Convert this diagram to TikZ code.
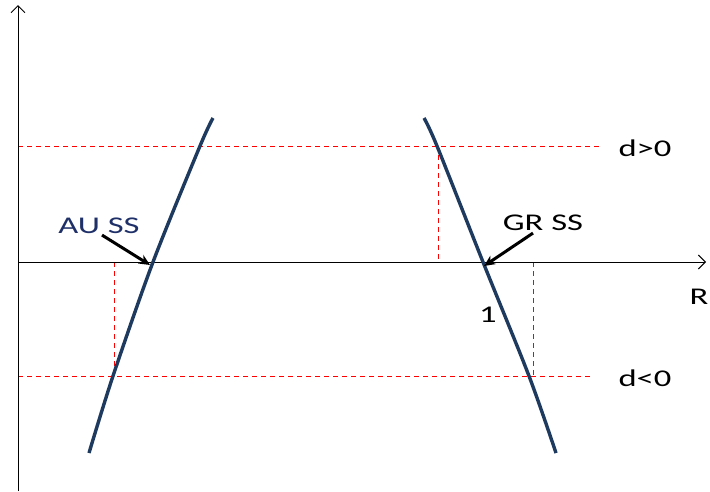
\documentclass[tikz,border=0pt]{standalone}
\usepackage{fontspec}
\setmainfont{Carlito}
\usetikzlibrary{arrows.meta}
\definecolor{curvenavy}{HTML}{1F3A5F}
\definecolor{labelnavy}{HTML}{1F3069}
\newcommand{\widetext}[1]{\scalebox{1.44}[1]{#1}}

\begin{document}
\begin{tikzpicture}[x=1pt,y=-1pt,
  axisline/.style={black, line width=1pt},
  guide/.style={red, dashed, line width=0.8pt, dash pattern=on 5pt off 4pt},
  branch/.style={curvenavy, line width=3.4pt},
  pointer/.style={black, line width=3pt, -{Stealth[length=11pt,width=10pt]}},
  lbl/.style={font=\fontsize{24}{28}\selectfont, inner sep=0pt}]
\useasboundingbox (0,0) rectangle (710,491);
% key points
\coordinate (o) at (18,262);
\coordinate (aus) at (153,262);
\coordinate (grs) at (483,262);
\coordinate (lhi) at (200,146);
\coordinate (llo) at (113,376);
\coordinate (rhi) at (437,146);
\coordinate (rlo) at (529,376);
% dashed guides
\draw[guide] (18,146) -- (600,146);
\draw[guide] (18,376) -- (593,376);
\draw[guide] (114,262) -- (114,376);
\draw[guide] (438,146) -- (438,262);
\draw[guide] (533,262) -- (533,376);
% axes
\draw[axisline, -{Straight Barb[length=7pt,width=14pt]}] (18,491) -- (18,5);
\draw[axisline, -{Straight Barb[length=7pt,width=14pt]}] (o) -- (706,262);
% the two branches
\draw[branch] plot[smooth, tension=0.5] coordinates {(89,453) (llo) (aus) (lhi) (213,118)};
\draw[branch] plot[smooth, tension=0.5] coordinates {(424,118) (rhi) (grs) (rlo) (556,453)};
% labels
\node[lbl, text=labelnavy] (aulbl) at (99,226) {\widetext{AU SS}};
\node[lbl] (grlbl) at (543,223) {\widetext{GR SS}};
\node[lbl] (one) at (488,315) {\widetext{1}};
\node[lbl] (dpos) at (645,148) {\widetext{d>0}};
\node[lbl] (dneg) at (645,378) {\widetext{d<0}};
\node[lbl] (rlbl) at (699,297) {\widetext{R}};
\draw[pointer] ([xshift=3pt,yshift=-1pt]aulbl.south) -- ([xshift=-3pt,yshift=-3pt]aus);
\draw[pointer] ([xshift=-10pt,yshift=-2pt]grlbl.south) -- ([xshift=1pt,yshift=-4pt]grs);
\end{tikzpicture}
\end{document}
